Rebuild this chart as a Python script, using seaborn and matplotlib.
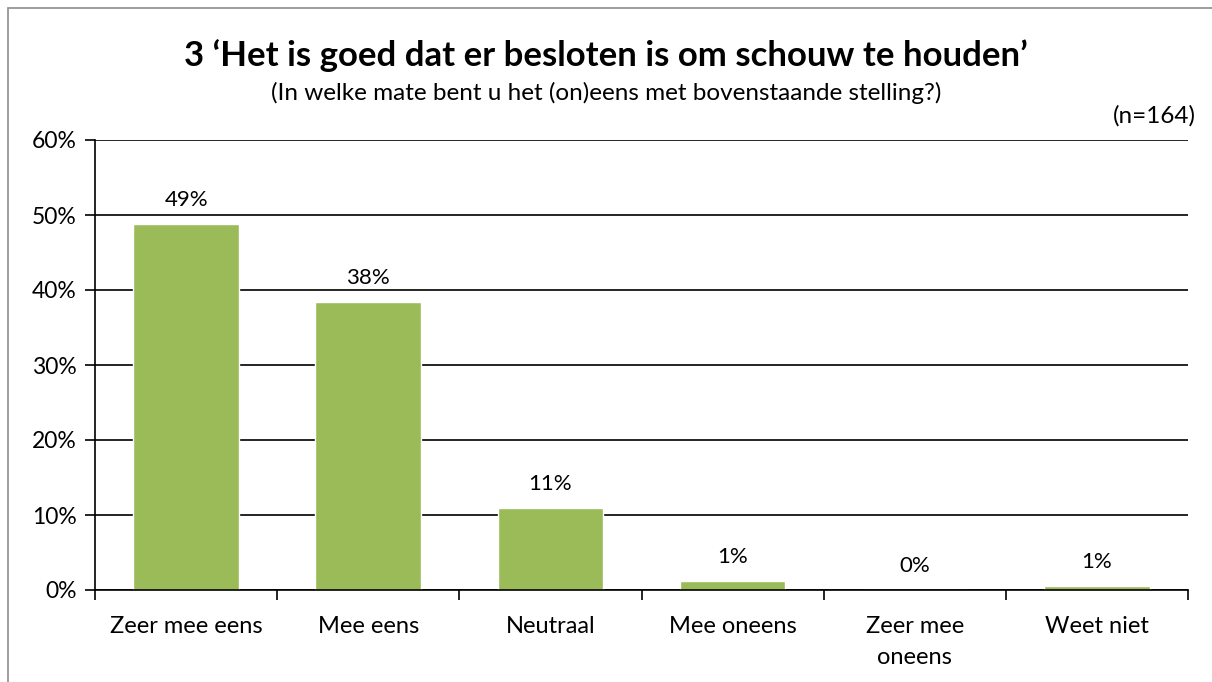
import numpy as np
import pandas as pd
import matplotlib
matplotlib.use('Agg')
import matplotlib.pyplot as plt
import seaborn as sns
from matplotlib.patches import Rectangle
from matplotlib.ticker import FixedLocator

sns.set_theme(style='white')
plt.rcParams['font.family'] = ['Lato', 'DejaVu Sans']
plt.rcParams['text.color'] = 'black'
plt.rcParams['xtick.color'] = 'black'
plt.rcParams['ytick.color'] = 'black'

# data
categories = ['Zeer mee eens', 'Mee eens', 'Neutraal', 'Mee oneens', 'Zeer mee\noneens', 'Weet niet']
percent = [48.8, 38.4, 11.0, 1.2, 0.0, 0.6]
yticks = [0, 10, 20, 30, 40, 50, 60]

title = '3 \u2018Het is goed dat er besloten is om schouw te houden\u2019'
subtitle = '(In welke mate bent u het (on)eens met bovenstaande stelling?)'
n_text = '(n=164)'

df = pd.DataFrame({'cat': categories, 'pct': percent})

fig = plt.figure(figsize=(12.12, 6.82), dpi=100)
ax = fig.add_axes([95/1212, 1-590/682, (1188-95)/1212, (590-140)/682])

sns.barplot(data=df, x='cat', y='pct', color='#9BBB59', width=0.58, saturation=1, ax=ax)

ax.set_ylim(0, 60)
ax.set_xlim(-0.5, len(categories)-0.5)
ax.set_yticks(yticks)
ax.set_yticklabels([f'{t}%' for t in yticks], fontsize=16.5)
ax.yaxis.grid(True, color='black', linewidth=1.2)
ax.set_axisbelow(True)
ax.set_xlabel('')
ax.set_ylabel('')

# ticks between categories
ax.xaxis.set_minor_locator(FixedLocator(np.arange(-0.5, len(categories), 1)))
ax.tick_params(axis='x', which='major', length=0, pad=19, labelsize=17, colors='black')
ax.tick_params(axis='x', which='minor', length=7, width=1.2, color='black', direction='out', bottom=True)
ax.tick_params(axis='y', length=7, width=1.2, color='black', direction='out', left=True, labelsize=16.5, pad=6)
for lbl in ax.get_xticklabels():
    lbl.set_verticalalignment('top')
    lbl.set_linespacing(1.55)

for s in ['top', 'right']:
    ax.spines[s].set_visible(False)
for s in ['left', 'bottom']:
    ax.spines[s].set_color('black')
    ax.spines[s].set_linewidth(1.2)

ax.bar_label(ax.containers[0], labels=[f'{v:.0f}%' for v in percent], padding=10, fontsize=16)

fig.text(0.5, 1-56/682, title, ha='center', va='center', fontsize=25, fontweight='bold')
fig.text(0.5, 1-93/682, subtitle, ha='center', va='center', fontsize=17.5)
fig.text(1196/1212, 1-116/682, n_text, ha='right', va='center', fontsize=17.5)

fig.patches.append(Rectangle((8/1212, -0.05), 1.1, 1-8/682+0.05, transform=fig.transFigure,
                             fill=False, edgecolor='#8c8c8c', linewidth=1.2))

fig.savefig('out.png', dpi=100)
